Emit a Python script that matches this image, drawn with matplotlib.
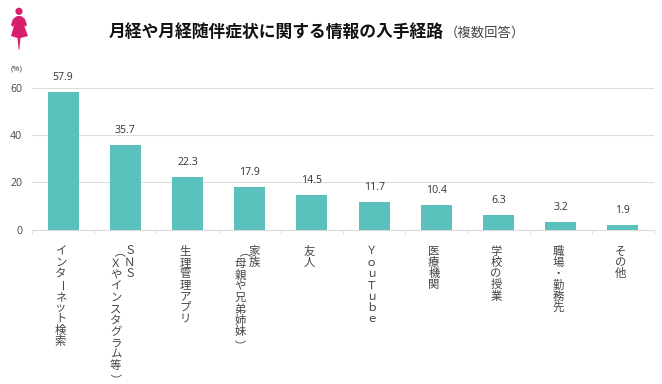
import matplotlib.pyplot as plt
from matplotlib.patches import Circle, Polygon

plt.rcParams["font.family"] = ["Open Sans", "Noto Sans CJK JP", "DejaVu Sans"]

W, H = 662, 384

# data
categories = [
    ["インターネット検索"],
    ["ＳＮＳ", "（Ｘやインスタグラム等）"],
    ["生理管理アプリ"],
    ["家族", "（母親や兄弟姉妹）"],
    ["友人"],
    ["ＹｏｕＴｕｂｅ"],
    ["医療機関"],
    ["学校の授業"],
    ["職場・勤務先"],
    ["その他"],
]
values = [57.9, 35.7, 22.3, 17.9, 14.5, 11.7, 10.4, 6.3, 3.2, 1.9]
y_ticks = [0, 20, 40, 60]

BAR_COLOR = "#5ac1bc"
GRID_COLOR = "#dddddd"
TEXT_COLOR = "#444444"
PINK = "#d81f6e"
ROTATED = "ー（）"
PITCH = 11.3
# rotated glyphs sit off centre in their cell, (dx, dy) in pixels
NUDGE = {"（": (-6, 4), "）": (-3, 1.2), "ー": (-1, 0)}


def vertical_label(ax, i, col, n_cols, text):
    # stack the characters by hand, matplotlib has no vertical writing
    dx = 4.5 - col * 14 if n_cols > 1 else -2.5
    start = 22.5 + col * 1.5
    for k, ch in enumerate(text):
        nx, ny = NUDGE.get(ch, (0, 0))
        dy = start + k * PITCH + ny
        ax.annotate(
            ch,
            xy=(i, 0),
            xycoords=("data", "axes fraction"),
            xytext=((dx + nx) * 0.72, -dy * 0.72),
            textcoords="offset points",
            ha="center",
            va="center",
            fontsize=8.2,
            color=TEXT_COLOR,
            rotation=-90 if ch in ROTATED else 0,
            rotation_mode="anchor",
            annotation_clip=False,
        )


fig = plt.figure(figsize=(W / 100, H / 100), dpi=100)
ax = fig.add_axes([32 / W, 1 - 229.5 / H, 622 / W, 142 / H])

x = list(range(len(values)))
ax.bar(x, values, width=0.5, color=BAR_COLOR, zorder=3)
for i, v in zip(x, values):
    ax.annotate(
        f"{v}",
        xy=(i, v),
        xytext=(0, 6.5),
        textcoords="offset points",
        ha="center",
        va="bottom",
        fontsize=7.6,
        color="#333333",
    )

ax.set_xlim(-0.5, len(values) - 0.5)
ax.set_ylim(0, 60)
ax.set_yticks(y_ticks)
ax.tick_params(axis="y", length=0, pad=7, labelsize=7.6, labelcolor=TEXT_COLOR)
ax.set_xticks([i - 0.5 for i in range(len(values) + 1)])
ax.set_xticklabels([])
ax.tick_params(axis="x", length=3, width=0.8, color=GRID_COLOR)
ax.grid(axis="y", color=GRID_COLOR, linewidth=0.8, zorder=0)
ax.grid(axis="x", visible=False)
for name in ["top", "right", "left"]:
    ax.spines[name].set_visible(False)
ax.spines["bottom"].set_color(GRID_COLOR)

for i, lines in enumerate(categories):
    for col, line in enumerate(lines):
        vertical_label(ax, i, col, len(lines), line)

fig.text(11 / W, 1 - 69 / H, "(%)", fontsize=6, color=TEXT_COLOR, va="center")
fig.text(109 / W, 1 - 32 / H, "月経や月経随伴症状に関する情報の入手経路",
         fontsize=12.1, fontweight="bold", color="#111111", va="center")
fig.text(445 / W, 1 - 33 / H, "（複数回答）", fontsize=9.6, color=TEXT_COLOR, va="center")

# woman icon, drawn in pixel coordinates
icon = fig.add_axes([0, 0, 1, 1], facecolor="none")
icon.set_xlim(0, W)
icon.set_ylim(H, 0)
icon.axis("off")
icon.add_patch(Circle((19, 11.3), 3.6, color=PINK, lw=0))
icon.add_patch(Polygon(
    [(17, 16), (21, 16), (25, 19), (27, 25), (25, 27), (23.5, 24), (28, 36),
     (20.5, 38), (19.3, 50), (18.7, 50), (17.5, 38), (11, 36), (14.5, 24),
     (13, 27), (11, 25), (13, 19)],
    closed=True, color=PINK, lw=0,
))

fig.savefig("out.png", dpi=100)
